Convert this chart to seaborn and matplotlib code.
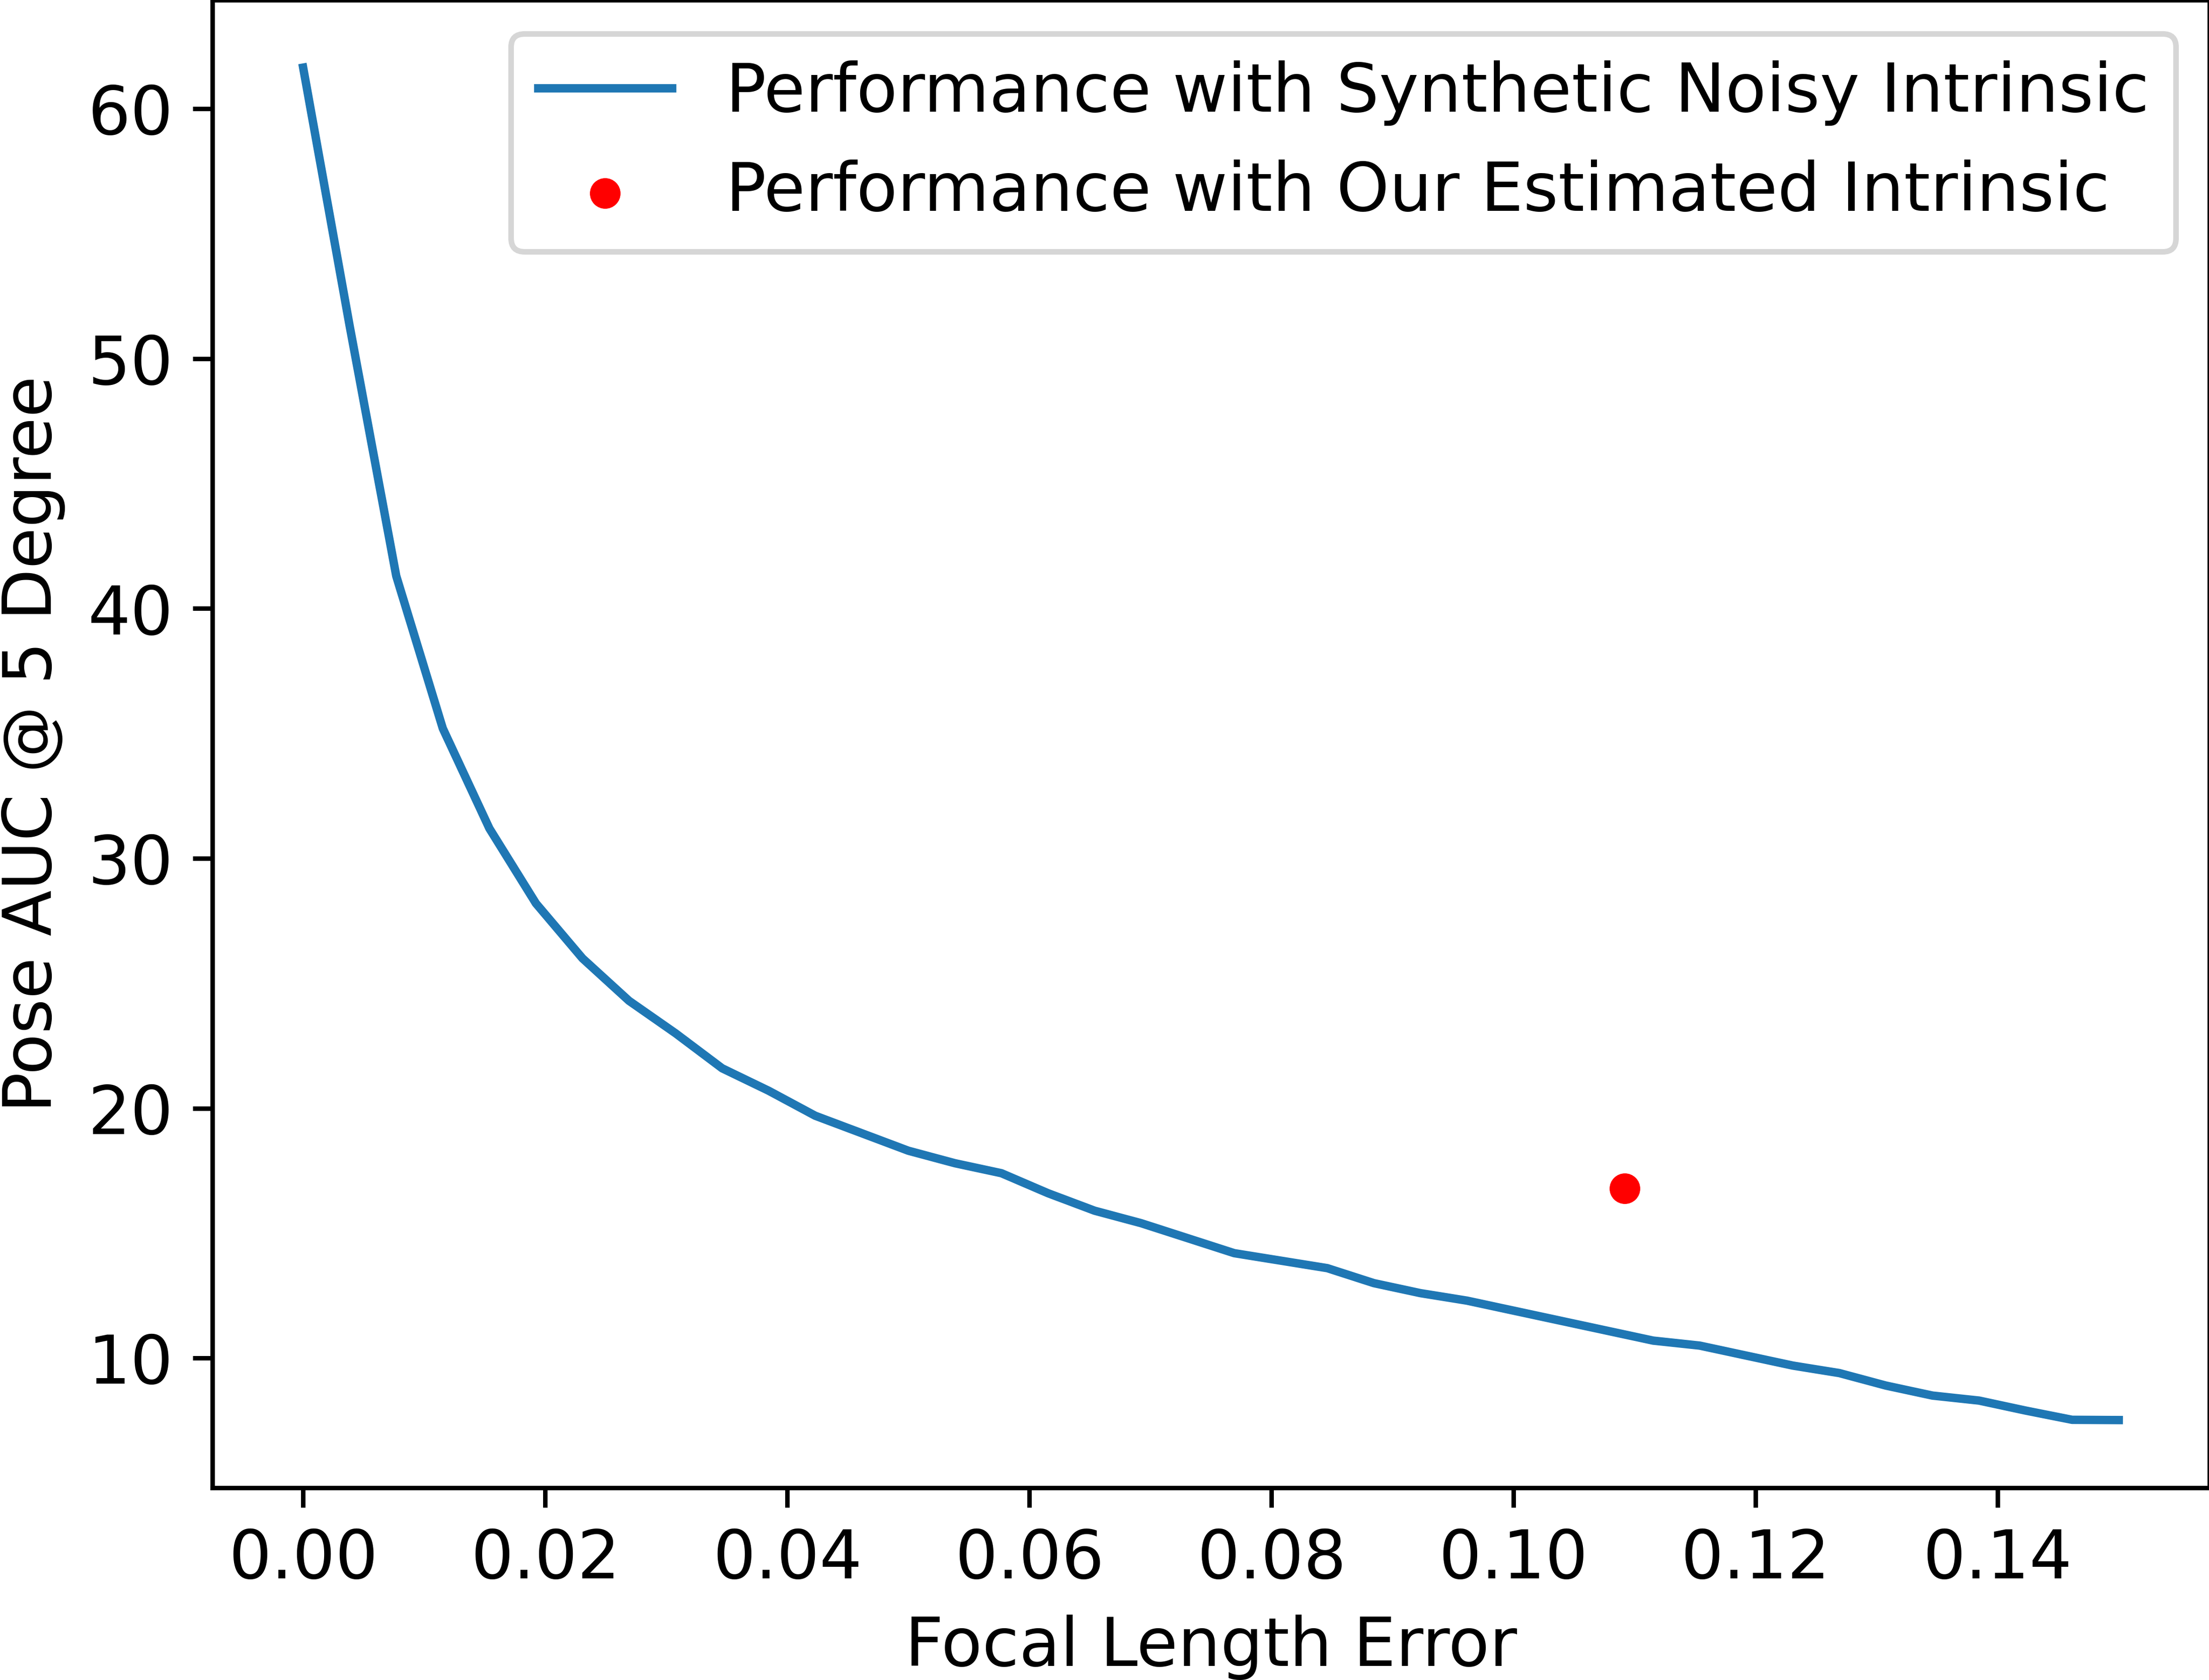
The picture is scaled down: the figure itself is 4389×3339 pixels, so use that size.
import numpy as np
import matplotlib
matplotlib.use("Agg")
import matplotlib.pyplot as plt
import seaborn as sns

plt.rcParams["font.size"] = 12

focal_error = [round(0.15 * i / 39, 6) for i in range(40)]
auc_values = [61.65, 51.3, 41.3, 35.2, 31.2, 28.2, 26.0, 24.3, 23.0, 21.6,
              20.7, 19.7, 19.0, 18.3, 17.8, 17.4, 16.6, 15.9, 15.4, 14.8,
              14.2, 13.9, 13.6, 13.0, 12.6, 12.3, 11.9, 11.5, 11.1, 10.7,
              10.5, 10.1, 9.7, 9.4, 8.9, 8.5, 8.3, 7.9, 7.53, 7.52]
est_error = [0.1092]
est_auc = [16.8]

fig, ax = plt.subplots(figsize=(6.4, 4.8))
sns.lineplot(x=focal_error, y=auc_values, ax=ax, color="#1f77b4", linewidth=1.5,
             label="Performance with Synthetic Noisy Intrinsic")
sns.scatterplot(x=est_error, y=est_auc, ax=ax, color="red", s=30, linewidth=0,
                label="Performance with Our Estimated Intrinsic")
ax.set_xlabel("Focal Length Error")
ax.set_ylabel("Pose AUC @ 5 Degree")
ax.legend(loc="upper right")
fig.savefig("out.png", dpi=800, bbox_inches="tight", pad_inches=0)
